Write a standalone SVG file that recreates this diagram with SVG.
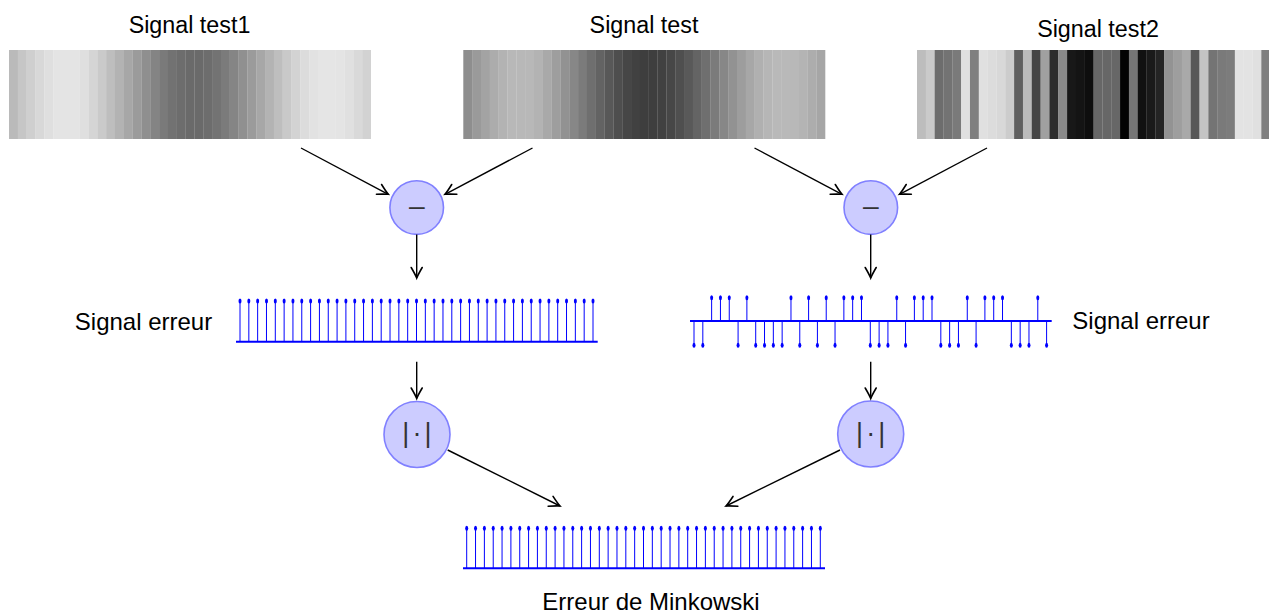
<svg xmlns="http://www.w3.org/2000/svg" xmlns:xlink="http://www.w3.org/1999/xlink" width="1269" height="613" viewBox="0 0 1269 613">
<style>
.lbl{font-family:"Liberation Sans",Arial,sans-serif;font-size:24px;fill:#000;text-anchor:middle}
.top{font-size:23.3px}
.op{fill:#ccccff;stroke:#8080ff;stroke-width:1.6}
.sym{font-family:"Liberation Sans",Arial,sans-serif;fill:#333;text-anchor:middle}
.conn{fill:none;stroke:#000;stroke-width:1.4}
.stem{stroke:#0000ff;stroke-width:1}
.base{stroke:#0000ff;stroke-width:2}
.dot{fill:#0000ff}
</style>
<defs>
<marker id="ah" markerUnits="userSpaceOnUse" markerWidth="16" markerHeight="16" viewBox="-13 -8 16 16" refX="0" refY="0" orient="auto">
<path d="M-10.5,-5.5 Q-3.5,-1.4 0,0 Q-3.5,1.4 -10.5,5.5" fill="none" stroke="#000" stroke-width="1.6" stroke-linecap="round"/>
</marker>
<g id="s1"><line class="stem" x1="0" y1="0" x2="0" y2="-40.7"/><ellipse class="dot" cx="0" cy="-40.7" rx="1.5" ry="2.5"/></g>
<g id="su"><line class="stem" x1="0" y1="0" x2="0" y2="-23.3"/><ellipse class="dot" cx="0" cy="-23.3" rx="1.5" ry="2.5"/></g>
<g id="sd"><line class="stem" x1="0" y1="0" x2="0" y2="24.3"/><ellipse class="dot" cx="0" cy="24.3" rx="1.5" ry="2.5"/></g>
<g id="s3"><line class="stem" x1="0" y1="0" x2="0" y2="-40"/><ellipse class="dot" cx="0" cy="-40" rx="1.5" ry="2.5"/></g>
</defs>

<g id="bar1">
<text class="lbl top" x="189.5" y="33">Signal test1</text>
<g transform="translate(9,50)">
<rect x="0" width="9" height="89" fill="#bababa"/><rect x="8.83" width="9" height="89" fill="#c6c6c6"/><rect x="17.66" width="9" height="89" fill="#cfcfcf"/><rect x="26.49" width="9" height="89" fill="#d8d8d8"/><rect x="35.32" width="9" height="89" fill="#dfdfdf"/><rect x="44.15" width="9" height="89" fill="#e4e4e4"/><rect x="52.97" width="9" height="89" fill="#e4e4e4"/><rect x="61.8" width="9" height="89" fill="#e4e4e4"/><rect x="70.63" width="9" height="89" fill="#dfdfdf"/><rect x="79.46" width="9" height="89" fill="#d5d5d5"/><rect x="88.29" width="9" height="89" fill="#cacaca"/><rect x="97.12" width="9" height="89" fill="#bebebe"/><rect x="105.95" width="9" height="89" fill="#b3b3b3"/><rect x="114.78" width="9" height="89" fill="#a7a7a7"/><rect x="123.61" width="9" height="89" fill="#9b9b9b"/><rect x="132.44" width="9" height="89" fill="#8f8f8f"/><rect x="141.26" width="9" height="89" fill="#848484"/><rect x="150.09" width="9" height="89" fill="#7a7a7a"/><rect x="158.92" width="9" height="89" fill="#727272"/><rect x="167.75" width="9" height="89" fill="#6d6d6d"/><rect x="176.58" width="9" height="89" fill="#6a6a6a"/><rect x="185.41" width="9" height="89" fill="#6a6a6a"/><rect x="194.24" width="9" height="89" fill="#6d6d6d"/><rect x="203.07" width="9" height="89" fill="#737373"/><rect x="211.9" width="9" height="89" fill="#7b7b7b"/><rect x="220.73" width="9" height="89" fill="#858585"/><rect x="229.55" width="9" height="89" fill="#909090"/><rect x="238.38" width="9" height="89" fill="#9b9b9b"/><rect x="247.21" width="9" height="89" fill="#a7a7a7"/><rect x="256.04" width="9" height="89" fill="#b3b3b3"/><rect x="264.87" width="9" height="89" fill="#bebebe"/><rect x="273.7" width="9" height="89" fill="#c9c9c9"/><rect x="282.53" width="9" height="89" fill="#d3d3d3"/><rect x="291.36" width="9" height="89" fill="#dcdcdc"/><rect x="300.19" width="9" height="89" fill="#e2e2e2"/><rect x="309.02" width="9" height="89" fill="#e5e5e5"/><rect x="317.84" width="9" height="89" fill="#e5e5e5"/><rect x="326.67" width="9" height="89" fill="#e4e4e4"/><rect x="335.5" width="9" height="89" fill="#e0e0e0"/><rect x="344.33" width="9" height="89" fill="#d9d9d9"/><rect x="353.16" width="8.84" height="89" fill="#d2d2d2"/>
</g>
</g>

<g id="bar2">
<text class="lbl top" x="644" y="32.5">Signal test</text>
<g transform="translate(463.3,50)">
<rect x="0" width="9" height="89" fill="#8e8e8e"/><rect x="8.83" width="9" height="89" fill="#9a9a9a"/><rect x="17.66" width="9" height="89" fill="#a3a3a3"/><rect x="26.49" width="9" height="89" fill="#acacac"/><rect x="35.32" width="9" height="89" fill="#b3b3b3"/><rect x="44.15" width="9" height="89" fill="#b8b8b8"/><rect x="52.97" width="9" height="89" fill="#b8b8b8"/><rect x="61.8" width="9" height="89" fill="#b8b8b8"/><rect x="70.63" width="9" height="89" fill="#b3b3b3"/><rect x="79.46" width="9" height="89" fill="#a9a9a9"/><rect x="88.29" width="9" height="89" fill="#9e9e9e"/><rect x="97.12" width="9" height="89" fill="#929292"/><rect x="105.95" width="9" height="89" fill="#878787"/><rect x="114.78" width="9" height="89" fill="#7b7b7b"/><rect x="123.61" width="9" height="89" fill="#6f6f6f"/><rect x="132.44" width="9" height="89" fill="#636363"/><rect x="141.26" width="9" height="89" fill="#585858"/><rect x="150.09" width="9" height="89" fill="#4e4e4e"/><rect x="158.92" width="9" height="89" fill="#464646"/><rect x="167.75" width="9" height="89" fill="#414141"/><rect x="176.58" width="9" height="89" fill="#3e3e3e"/><rect x="185.41" width="9" height="89" fill="#3e3e3e"/><rect x="194.24" width="9" height="89" fill="#414141"/><rect x="203.07" width="9" height="89" fill="#474747"/><rect x="211.9" width="9" height="89" fill="#4f4f4f"/><rect x="220.73" width="9" height="89" fill="#595959"/><rect x="229.55" width="9" height="89" fill="#646464"/><rect x="238.38" width="9" height="89" fill="#6f6f6f"/><rect x="247.21" width="9" height="89" fill="#7b7b7b"/><rect x="256.04" width="9" height="89" fill="#878787"/><rect x="264.87" width="9" height="89" fill="#929292"/><rect x="273.7" width="9" height="89" fill="#9d9d9d"/><rect x="282.53" width="9" height="89" fill="#a7a7a7"/><rect x="291.36" width="9" height="89" fill="#b0b0b0"/><rect x="300.19" width="9" height="89" fill="#b6b6b6"/><rect x="309.02" width="9" height="89" fill="#b9b9b9"/><rect x="317.84" width="9" height="89" fill="#b9b9b9"/><rect x="326.67" width="9" height="89" fill="#b8b8b8"/><rect x="335.5" width="9" height="89" fill="#b4b4b4"/><rect x="344.33" width="9" height="89" fill="#adadad"/><rect x="353.16" width="8.84" height="89" fill="#a6a6a6"/>
</g>
</g>

<g id="bar3">
<text class="lbl top" x="1098" y="37">Signal test2</text>
<g transform="translate(917,50)">
<rect x="0" width="9" height="89" fill="#bdbdbd"/><rect x="8.83" width="9" height="89" fill="#cacaca"/><rect x="17.66" width="9" height="89" fill="#6d6d6d"/><rect x="26.49" width="9" height="89" fill="#737373"/><rect x="35.32" width="9" height="89" fill="#7a7a7a"/><rect x="44.15" width="9" height="89" fill="#e0e0e0"/><rect x="52.97" width="9" height="89" fill="#7f7f7f"/><rect x="61.8" width="9" height="89" fill="#e0e0e0"/><rect x="70.63" width="9" height="89" fill="#dcdcdc"/><rect x="79.46" width="9" height="89" fill="#d8d8d8"/><rect x="88.29" width="9" height="89" fill="#cccccc"/><rect x="97.12" width="9" height="89" fill="#5f5f5f"/><rect x="105.95" width="9" height="89" fill="#bbbbbb"/><rect x="114.78" width="9" height="89" fill="#454545"/><rect x="123.61" width="9" height="89" fill="#a0a0a0"/><rect x="132.44" width="9" height="89" fill="#2d2d2d"/><rect x="141.26" width="9" height="89" fill="#8a8a8a"/><rect x="150.09" width="9" height="89" fill="#181818"/><rect x="158.92" width="9" height="89" fill="#141414"/><rect x="167.75" width="9" height="89" fill="#0e0e0e"/><rect x="176.58" width="9" height="89" fill="#676767"/><rect x="185.41" width="9" height="89" fill="#676767"/><rect x="194.24" width="9" height="89" fill="#676767"/><rect x="203.07" width="9" height="89" fill="#030303"/><rect x="211.9" width="9" height="89" fill="#767676"/><rect x="220.73" width="9" height="89" fill="#111111"/><rect x="229.55" width="9" height="89" fill="#1a1a1a"/><rect x="238.38" width="9" height="89" fill="#242424"/><rect x="247.21" width="9" height="89" fill="#939393"/><rect x="256.04" width="9" height="89" fill="#9e9e9e"/><rect x="264.87" width="9" height="89" fill="#a9a9a9"/><rect x="273.7" width="9" height="89" fill="#575757"/><rect x="282.53" width="9" height="89" fill="#c4c4c4"/><rect x="291.36" width="9" height="89" fill="#747474"/><rect x="300.19" width="9" height="89" fill="#7a7a7a"/><rect x="309.02" width="9" height="89" fill="#7c7c7c"/><rect x="317.84" width="9" height="89" fill="#e3e3e3"/><rect x="326.67" width="9" height="89" fill="#e3e3e3"/><rect x="335.5" width="9" height="89" fill="#e0e0e0"/><rect x="344.33" width="9" height="89" fill="#7f7f7f"/><rect x="353.16" width="8.84" height="89" fill="#d3d3d3"/>
</g>
</g>

<g id="minus1">
<circle class="op" cx="416.7" cy="207.6" r="26.8"/>
<text class="sym" x="0" y="0" font-size="24" fill="#000" transform="translate(416.7,215.6) scale(1.35,1)">−</text>
</g>
<g id="minus2">
<circle class="op" cx="870.8" cy="207.6" r="26.8"/>
<text class="sym" x="0" y="0" font-size="24" transform="translate(870.8,215.6) scale(1.35,1)">−</text>
</g>

<g id="error1">
<text class="lbl" x="143.5" y="330">Signal erreur</text>
<line class="base" x1="236" y1="341.7" x2="597.7" y2="341.7"/>
<use href="#s1" x="240" y="341.7"/><use href="#s1" x="248.83" y="341.7"/><use href="#s1" x="257.65" y="341.7"/><use href="#s1" x="266.48" y="341.7"/><use href="#s1" x="275.3" y="341.7"/><use href="#s1" x="284.13" y="341.7"/><use href="#s1" x="292.95" y="341.7"/><use href="#s1" x="301.78" y="341.7"/><use href="#s1" x="310.6" y="341.7"/><use href="#s1" x="319.43" y="341.7"/><use href="#s1" x="328.25" y="341.7"/><use href="#s1" x="337.08" y="341.7"/><use href="#s1" x="345.9" y="341.7"/><use href="#s1" x="354.73" y="341.7"/><use href="#s1" x="363.55" y="341.7"/><use href="#s1" x="372.38" y="341.7"/><use href="#s1" x="381.2" y="341.7"/><use href="#s1" x="390.03" y="341.7"/><use href="#s1" x="398.85" y="341.7"/><use href="#s1" x="407.68" y="341.7"/><use href="#s1" x="416.5" y="341.7"/><use href="#s1" x="425.33" y="341.7"/><use href="#s1" x="434.15" y="341.7"/><use href="#s1" x="442.98" y="341.7"/><use href="#s1" x="451.8" y="341.7"/><use href="#s1" x="460.63" y="341.7"/><use href="#s1" x="469.45" y="341.7"/><use href="#s1" x="478.28" y="341.7"/><use href="#s1" x="487.1" y="341.7"/><use href="#s1" x="495.93" y="341.7"/><use href="#s1" x="504.75" y="341.7"/><use href="#s1" x="513.58" y="341.7"/><use href="#s1" x="522.4" y="341.7"/><use href="#s1" x="531.23" y="341.7"/><use href="#s1" x="540.05" y="341.7"/><use href="#s1" x="548.88" y="341.7"/><use href="#s1" x="557.7" y="341.7"/><use href="#s1" x="566.53" y="341.7"/><use href="#s1" x="575.35" y="341.7"/><use href="#s1" x="584.18" y="341.7"/><use href="#s1" x="593" y="341.7"/>
</g>

<g id="error2">
<text class="lbl" x="1141" y="329">Signal erreur</text>
<line class="base" x1="690" y1="321" x2="1051.7" y2="321"/>
<use href="#sd" x="694" y="321"/><use href="#sd" x="702.82" y="321"/><use href="#su" x="711.63" y="321"/><use href="#su" x="720.45" y="321"/><use href="#su" x="729.26" y="321"/><use href="#sd" x="738.08" y="321"/><use href="#su" x="746.89" y="321"/><use href="#sd" x="755.71" y="321"/><use href="#sd" x="764.52" y="321"/><use href="#sd" x="773.34" y="321"/><use href="#sd" x="782.15" y="321"/><use href="#su" x="790.97" y="321"/><use href="#sd" x="799.78" y="321"/><use href="#su" x="808.6" y="321"/><use href="#sd" x="817.41" y="321"/><use href="#su" x="826.23" y="321"/><use href="#sd" x="835.04" y="321"/><use href="#su" x="843.86" y="321"/><use href="#su" x="852.67" y="321"/><use href="#su" x="861.49" y="321"/><use href="#sd" x="870.3" y="321"/><use href="#sd" x="879.12" y="321"/><use href="#sd" x="887.93" y="321"/><use href="#su" x="896.75" y="321"/><use href="#sd" x="905.56" y="321"/><use href="#su" x="914.38" y="321"/><use href="#su" x="923.19" y="321"/><use href="#su" x="932.01" y="321"/><use href="#sd" x="940.82" y="321"/><use href="#sd" x="949.64" y="321"/><use href="#sd" x="958.45" y="321"/><use href="#su" x="967.27" y="321"/><use href="#sd" x="976.08" y="321"/><use href="#su" x="984.9" y="321"/><use href="#su" x="993.71" y="321"/><use href="#su" x="1002.53" y="321"/><use href="#sd" x="1011.34" y="321"/><use href="#sd" x="1020.16" y="321"/><use href="#sd" x="1028.97" y="321"/><use href="#su" x="1037.79" y="321"/><use href="#sd" x="1046.6" y="321"/>
</g>

<g id="abs1">
<circle class="op" cx="417" cy="434.5" r="33"/>
<text class="sym" font-size="27" x="405.8 417 428.1" y="442">|·|</text>
</g>
<g id="abs2">
<circle class="op" cx="870.7" cy="434" r="33"/>
<text class="sym" font-size="27" x="859.5 870.7 881.8" y="442">|·|</text>
</g>

<g id="minkowski">
<line class="base" x1="463" y1="568.3" x2="825" y2="568.3"/>
<use href="#s3" x="466.7" y="568.3"/><use href="#s3" x="475.54" y="568.3"/><use href="#s3" x="484.38" y="568.3"/><use href="#s3" x="493.22" y="568.3"/><use href="#s3" x="502.06" y="568.3"/><use href="#s3" x="510.9" y="568.3"/><use href="#s3" x="519.74" y="568.3"/><use href="#s3" x="528.58" y="568.3"/><use href="#s3" x="537.42" y="568.3"/><use href="#s3" x="546.26" y="568.3"/><use href="#s3" x="555.1" y="568.3"/><use href="#s3" x="563.94" y="568.3"/><use href="#s3" x="572.78" y="568.3"/><use href="#s3" x="581.62" y="568.3"/><use href="#s3" x="590.46" y="568.3"/><use href="#s3" x="599.3" y="568.3"/><use href="#s3" x="608.14" y="568.3"/><use href="#s3" x="616.98" y="568.3"/><use href="#s3" x="625.82" y="568.3"/><use href="#s3" x="634.66" y="568.3"/><use href="#s3" x="643.5" y="568.3"/><use href="#s3" x="652.34" y="568.3"/><use href="#s3" x="661.18" y="568.3"/><use href="#s3" x="670.02" y="568.3"/><use href="#s3" x="678.86" y="568.3"/><use href="#s3" x="687.7" y="568.3"/><use href="#s3" x="696.54" y="568.3"/><use href="#s3" x="705.38" y="568.3"/><use href="#s3" x="714.22" y="568.3"/><use href="#s3" x="723.06" y="568.3"/><use href="#s3" x="731.9" y="568.3"/><use href="#s3" x="740.74" y="568.3"/><use href="#s3" x="749.58" y="568.3"/><use href="#s3" x="758.42" y="568.3"/><use href="#s3" x="767.26" y="568.3"/><use href="#s3" x="776.1" y="568.3"/><use href="#s3" x="784.94" y="568.3"/><use href="#s3" x="793.78" y="568.3"/><use href="#s3" x="802.62" y="568.3"/><use href="#s3" x="811.46" y="568.3"/><use href="#s3" x="820.3" y="568.3"/>
<text class="lbl" x="651" y="610">Erreur de Minkowski</text>
</g>

<g id="connectors">
<path class="conn" marker-end="url(#ah)" d="M301,148 L388.3,194.3"/>
<path class="conn" marker-end="url(#ah)" d="M532.5,148 L445,194.3"/>
<path class="conn" marker-end="url(#ah)" d="M754.5,148 L842,194.3"/>
<path class="conn" marker-end="url(#ah)" d="M987,148 L899.5,194.3"/>
<path class="conn" marker-end="url(#ah)" d="M416.7,234.5 V278"/>
<path class="conn" marker-end="url(#ah)" d="M870.7,234.5 V278"/>
<path class="conn" marker-end="url(#ah)" d="M416.7,361.7 V398.5"/>
<path class="conn" marker-end="url(#ah)" d="M870.7,361.7 V398.5"/>
<path class="conn" marker-end="url(#ah)" d="M447.7,450 L560,506"/>
<path class="conn" marker-end="url(#ah)" d="M840,450 L726,506"/>
</g>
</svg>
